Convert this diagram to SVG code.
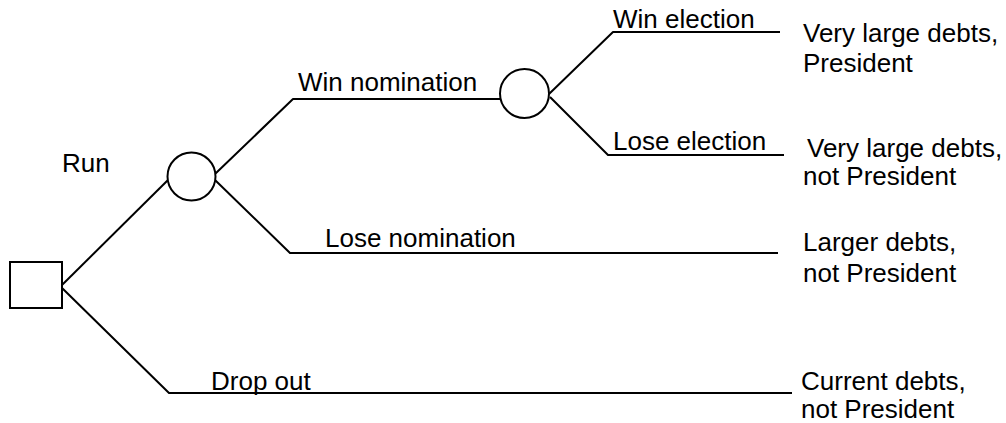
<svg xmlns="http://www.w3.org/2000/svg" width="1006" height="423" viewBox="0 0 1006 423">
  <style>
    .ln { fill: none; stroke: #000; stroke-width: 2; stroke-linejoin: round; }
    .nd { fill: #fff; stroke: #000; stroke-width: 2; }
    text { font-family: "Liberation Sans", Arial, sans-serif; font-size: 26px; fill: #000; }
  </style>
  <rect width="1006" height="423" fill="#fff"/>

  <g id="connectors">
    <!-- decision -> nomination chance -->
    <polyline class="ln" points="61,286 168,180"/>
    <!-- decision -> drop out -->
    <polyline class="ln" points="61,287 169,393 792,393"/>
    <!-- nomination chance -> win nomination -->
    <polyline class="ln" points="215,174 293,99 500,99"/>
    <!-- nomination chance -> lose nomination -->
    <polyline class="ln" points="215,180 290,253 778,253"/>
    <!-- election chance -> win election -->
    <polyline class="ln" points="549,94 613,32 780,32"/>
    <!-- election chance -> lose election -->
    <polyline class="ln" points="550,97 608,155 784,155"/>
  </g>

  <g id="decision">
    <rect class="nd" x="10" y="262" width="52" height="46"/>
  </g>
  <g id="chance-nomination">
    <circle class="nd" cx="191.5" cy="176.5" r="24"/>
  </g>
  <g id="chance-election">
    <circle class="nd" cx="524.5" cy="93.5" r="24.5"/>
  </g>

  <g id="labels">
    <text x="62" y="172">Run</text>
    <text x="298" y="91">Win nomination</text>
    <text x="325" y="247">Lose nomination</text>
    <text x="211" y="390">Drop out</text>
    <text x="613" y="28">Win election</text>
    <text x="613" y="150">Lose election</text>
  </g>

  <g id="outcomes">
    <text x="803" y="42">Very large debts,</text>
    <text x="803" y="72">President</text>
    <text x="807" y="157">Very large debts,</text>
    <text x="803" y="185">not President</text>
    <text x="803" y="251">Larger debts,</text>
    <text x="803" y="282">not President</text>
    <text x="801" y="390">Current debts,</text>
    <text x="801" y="418">not President</text>
  </g>
</svg>
